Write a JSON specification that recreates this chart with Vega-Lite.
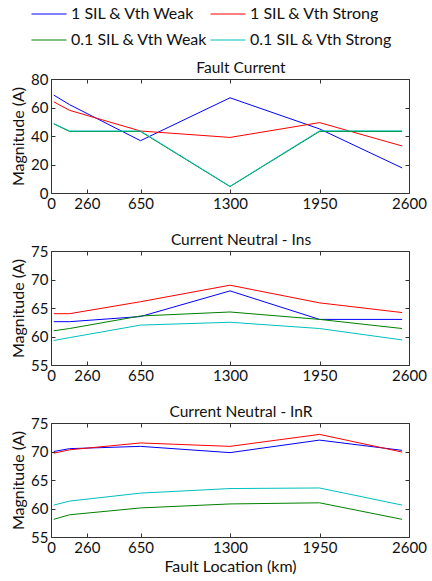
{
  "$schema": "https://vega.github.io/schema/vega-lite/v6.json",
  "padding": {"left": 10, "top": -4, "right": 6, "bottom": 4},
  "background": "white",
  "config": {
    "font": "Lato",
    "view": {"stroke": "#333", "strokeWidth": 1},
    "axis": {"grid": false, "domain": false, "tickColor": "#333", "tickSize": -4, "labelFontSize": 15, "labelColor": "#111", "labelPadding": 7, "labelFlush": false, "titleFontSize": 16, "titleFontWeight": "normal", "titleColor": "#111", "labelFont": "Lato", "titleFont": "Lato", "format": "d"},
    "title": {"fontSize": 15.5, "fontWeight": "normal", "color": "#111", "offset": -4, "dx": 11, "font": "Lato"},
    "concat": {"spacing": 58},
    "legend": {"labelFont": "Lato"}
  },
  "datasets": {
    "d": [
      {"panel": "FC", "series": "1 SIL & Vth Weak", "x": 20, "y": 68.7},
      {"panel": "FC", "series": "1 SIL & Vth Weak", "x": 135, "y": 62},
      {"panel": "FC", "series": "1 SIL & Vth Weak", "x": 650, "y": 36.7},
      {"panel": "FC", "series": "1 SIL & Vth Weak", "x": 1300, "y": 66.8},
      {"panel": "FC", "series": "1 SIL & Vth Weak", "x": 1950, "y": 45},
      {"panel": "FC", "series": "1 SIL & Vth Weak", "x": 2550, "y": 17.6},
      {"panel": "FC", "series": "1 SIL & Vth Strong", "x": 20, "y": 64},
      {"panel": "FC", "series": "1 SIL & Vth Strong", "x": 135, "y": 58},
      {"panel": "FC", "series": "1 SIL & Vth Strong", "x": 650, "y": 43.5},
      {"panel": "FC", "series": "1 SIL & Vth Strong", "x": 1300, "y": 39},
      {"panel": "FC", "series": "1 SIL & Vth Strong", "x": 1950, "y": 49.4},
      {"panel": "FC", "series": "1 SIL & Vth Strong", "x": 2550, "y": 33},
      {"panel": "FC", "series": "0.1 SIL & Vth Weak", "x": 20, "y": 48.5},
      {"panel": "FC", "series": "0.1 SIL & Vth Weak", "x": 135, "y": 43.2},
      {"panel": "FC", "series": "0.1 SIL & Vth Weak", "x": 650, "y": 43.2},
      {"panel": "FC", "series": "0.1 SIL & Vth Weak", "x": 1300, "y": 4.5},
      {"panel": "FC", "series": "0.1 SIL & Vth Weak", "x": 1950, "y": 43.2},
      {"panel": "FC", "series": "0.1 SIL & Vth Weak", "x": 2550, "y": 43.2},
      {"panel": "FC", "series": "0.1 SIL & Vth Strong", "x": 20, "y": 48.7},
      {"panel": "FC", "series": "0.1 SIL & Vth Strong", "x": 135, "y": 43.5},
      {"panel": "FC", "series": "0.1 SIL & Vth Strong", "x": 650, "y": 43.5},
      {"panel": "FC", "series": "0.1 SIL & Vth Strong", "x": 1300, "y": 4.7},
      {"panel": "FC", "series": "0.1 SIL & Vth Strong", "x": 1950, "y": 43.6},
      {"panel": "FC", "series": "0.1 SIL & Vth Strong", "x": 2550, "y": 43.6},
      {"panel": "Ins", "series": "1 SIL & Vth Weak", "x": 20, "y": 62.6},
      {"panel": "Ins", "series": "1 SIL & Vth Weak", "x": 135, "y": 62.6},
      {"panel": "Ins", "series": "1 SIL & Vth Weak", "x": 650, "y": 63.5},
      {"panel": "Ins", "series": "1 SIL & Vth Weak", "x": 1300, "y": 68.0},
      {"panel": "Ins", "series": "1 SIL & Vth Weak", "x": 1950, "y": 63.0},
      {"panel": "Ins", "series": "1 SIL & Vth Weak", "x": 2550, "y": 63.0},
      {"panel": "Ins", "series": "1 SIL & Vth Strong", "x": 20, "y": 64.0},
      {"panel": "Ins", "series": "1 SIL & Vth Strong", "x": 135, "y": 64.0},
      {"panel": "Ins", "series": "1 SIL & Vth Strong", "x": 650, "y": 66.1},
      {"panel": "Ins", "series": "1 SIL & Vth Strong", "x": 1300, "y": 69.0},
      {"panel": "Ins", "series": "1 SIL & Vth Strong", "x": 1950, "y": 65.9},
      {"panel": "Ins", "series": "1 SIL & Vth Strong", "x": 2550, "y": 64.2},
      {"panel": "Ins", "series": "0.1 SIL & Vth Weak", "x": 20, "y": 61.0},
      {"panel": "Ins", "series": "0.1 SIL & Vth Weak", "x": 135, "y": 61.4},
      {"panel": "Ins", "series": "0.1 SIL & Vth Weak", "x": 650, "y": 63.6},
      {"panel": "Ins", "series": "0.1 SIL & Vth Weak", "x": 1300, "y": 64.3},
      {"panel": "Ins", "series": "0.1 SIL & Vth Weak", "x": 1950, "y": 63.0},
      {"panel": "Ins", "series": "0.1 SIL & Vth Weak", "x": 2550, "y": 61.4},
      {"panel": "Ins", "series": "0.1 SIL & Vth Strong", "x": 20, "y": 59.3},
      {"panel": "Ins", "series": "0.1 SIL & Vth Strong", "x": 135, "y": 59.8},
      {"panel": "Ins", "series": "0.1 SIL & Vth Strong", "x": 650, "y": 62.0},
      {"panel": "Ins", "series": "0.1 SIL & Vth Strong", "x": 1300, "y": 62.5},
      {"panel": "Ins", "series": "0.1 SIL & Vth Strong", "x": 1950, "y": 61.4},
      {"panel": "Ins", "series": "0.1 SIL & Vth Strong", "x": 2550, "y": 59.4},
      {"panel": "InR", "series": "1 SIL & Vth Weak", "x": 20, "y": 70.0},
      {"panel": "InR", "series": "1 SIL & Vth Weak", "x": 135, "y": 70.5},
      {"panel": "InR", "series": "1 SIL & Vth Weak", "x": 650, "y": 70.9},
      {"panel": "InR", "series": "1 SIL & Vth Weak", "x": 1300, "y": 69.8},
      {"panel": "InR", "series": "1 SIL & Vth Weak", "x": 1950, "y": 72.0},
      {"panel": "InR", "series": "1 SIL & Vth Weak", "x": 2550, "y": 70.2},
      {"panel": "InR", "series": "1 SIL & Vth Strong", "x": 20, "y": 69.7},
      {"panel": "InR", "series": "1 SIL & Vth Strong", "x": 135, "y": 70.3},
      {"panel": "InR", "series": "1 SIL & Vth Strong", "x": 650, "y": 71.5},
      {"panel": "InR", "series": "1 SIL & Vth Strong", "x": 1300, "y": 70.9},
      {"panel": "InR", "series": "1 SIL & Vth Strong", "x": 1950, "y": 73.0},
      {"panel": "InR", "series": "1 SIL & Vth Strong", "x": 2550, "y": 69.9},
      {"panel": "InR", "series": "0.1 SIL & Vth Weak", "x": 20, "y": 58.1},
      {"panel": "InR", "series": "0.1 SIL & Vth Weak", "x": 135, "y": 58.9},
      {"panel": "InR", "series": "0.1 SIL & Vth Weak", "x": 650, "y": 60.1},
      {"panel": "InR", "series": "0.1 SIL & Vth Weak", "x": 1300, "y": 60.8},
      {"panel": "InR", "series": "0.1 SIL & Vth Weak", "x": 1950, "y": 61.0},
      {"panel": "InR", "series": "0.1 SIL & Vth Weak", "x": 2550, "y": 58.1},
      {"panel": "InR", "series": "0.1 SIL & Vth Strong", "x": 20, "y": 60.6},
      {"panel": "InR", "series": "0.1 SIL & Vth Strong", "x": 135, "y": 61.3},
      {"panel": "InR", "series": "0.1 SIL & Vth Strong", "x": 650, "y": 62.7},
      {"panel": "InR", "series": "0.1 SIL & Vth Strong", "x": 1300, "y": 63.5},
      {"panel": "InR", "series": "0.1 SIL & Vth Strong", "x": 1950, "y": 63.6},
      {"panel": "InR", "series": "0.1 SIL & Vth Strong", "x": 2550, "y": 60.6}
    ]
  },
  "data": {"name": "d"},
  "bounds": "flush",
  "vconcat": [
    {
      "title": "Fault Current",
      "width": 358, "height": 114,
      "transform": [{"filter": "datum.panel === 'FC'"}],
      "layer": [
        {
          "mark": {"type": "line", "strokeWidth": 1},
          "encoding": {
            "x": {"field": "x", "type": "quantitative", "scale": {"domain": [0, 2600], "nice": false}, "axis": {"orient": "bottom", "values": [0, 260, 650, 1300, 1950, 2600], "title": null}},
            "y": {"field": "y", "type": "quantitative", "scale": {"domain": [0, 80], "nice": false}, "axis": {"orient": "left", "values": [0, 20, 40, 60, 80], "title": "Magnitude (A)", "titlePadding": 4}},
            "color": {"field": "series", "type": "nominal", "sort": null, "scale": {"domain": ["1 SIL & Vth Weak", "1 SIL & Vth Strong", "0.1 SIL & Vth Weak", "0.1 SIL & Vth Strong"], "range": ["#0000ff", "#ff0000", "#008000", "#00bfbf"]},
              "legend": {"orient": "none", "direction": "horizontal", "legendX": -20, "legendY": -83, "columns": 2, "title": null, "symbolType": "stroke", "symbolSize": 1225, "symbolStrokeWidth": 1, "labelFontSize": 16, "labelColor": "#111", "rowPadding": -10, "columnPadding": 0, "labelOffset": 4, "padding": 0, "labelLimit": 300}}
          }
        },
        {
          "mark": {"type": "line", "opacity": 0},
          "encoding": {
            "x": {"field": "x", "type": "quantitative", "axis": {"orient": "top", "values": [0, 260, 650, 1300, 1950, 2600], "labels": false, "title": null}},
            "y": {"field": "y", "type": "quantitative", "axis": {"orient": "right", "values": [0, 20, 40, 60, 80], "labels": false, "title": null}},
            "detail": {"field": "series"}
          }
        }
      ],
      "resolve": {"axis": {"x": "independent", "y": "independent"}}
    },
    {
      "title": "Current Neutral - Ins",
      "width": 358, "height": 114,
      "transform": [{"filter": "datum.panel === 'Ins'"}],
      "layer": [
        {
          "mark": {"type": "line", "strokeWidth": 1},
          "encoding": {
            "x": {"field": "x", "type": "quantitative", "scale": {"domain": [0, 2600], "nice": false}, "axis": {"orient": "bottom", "values": [0, 260, 650, 1300, 1950, 2600], "title": null}},
            "y": {"field": "y", "type": "quantitative", "scale": {"domain": [55, 75], "nice": false, "zero": false}, "axis": {"orient": "left", "values": [55, 60, 65, 70, 75], "title": "Magnitude (A)", "titlePadding": 4}},
            "color": {"field": "series", "type": "nominal", "sort": null}
          }
        },
        {
          "mark": {"type": "line", "opacity": 0},
          "encoding": {
            "x": {"field": "x", "type": "quantitative", "axis": {"orient": "top", "values": [0, 260, 650, 1300, 1950, 2600], "labels": false, "title": null}},
            "y": {"field": "y", "type": "quantitative", "axis": {"orient": "right", "values": [55, 60, 65, 70, 75], "labels": false, "title": null}},
            "detail": {"field": "series"}
          }
        }
      ],
      "resolve": {"axis": {"x": "independent", "y": "independent"}}
    },
    {
      "title": "Current Neutral - InR",
      "width": 358, "height": 114,
      "transform": [{"filter": "datum.panel === 'InR'"}],
      "layer": [
        {
          "mark": {"type": "line", "strokeWidth": 1},
          "encoding": {
            "x": {"field": "x", "type": "quantitative", "scale": {"domain": [0, 2600], "nice": false}, "axis": {"orient": "bottom", "values": [0, 260, 650, 1300, 1950, 2600], "title": "Fault Location (km)", "titlePadding": 3}},
            "y": {"field": "y", "type": "quantitative", "scale": {"domain": [55, 75], "nice": false, "zero": false}, "axis": {"orient": "left", "values": [55, 60, 65, 70, 75], "title": "Magnitude (A)", "titlePadding": 4}},
            "color": {"field": "series", "type": "nominal", "sort": null}
          }
        },
        {
          "mark": {"type": "line", "opacity": 0},
          "encoding": {
            "x": {"field": "x", "type": "quantitative", "axis": {"orient": "top", "values": [0, 260, 650, 1300, 1950, 2600], "labels": false, "title": null}},
            "y": {"field": "y", "type": "quantitative", "axis": {"orient": "right", "values": [55, 60, 65, 70, 75], "labels": false, "title": null}},
            "detail": {"field": "series"}
          }
        }
      ],
      "resolve": {"axis": {"x": "independent", "y": "independent"}}
    }
  ],
  "resolve": {"scale": {"color": "shared"}}
}
